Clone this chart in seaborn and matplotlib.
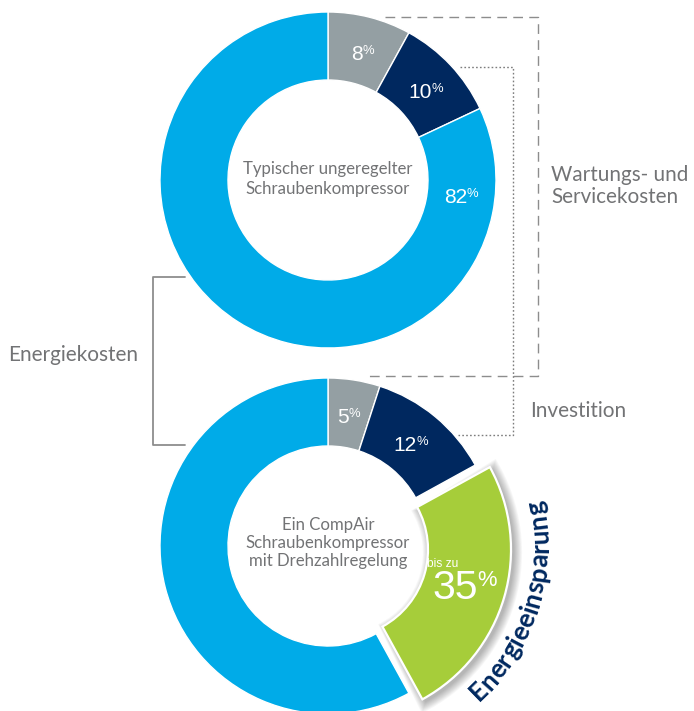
import matplotlib
matplotlib.use("Agg")
import matplotlib.pyplot as plt
import seaborn as sns
import numpy as np
from matplotlib.patches import Wedge
from matplotlib.font_manager import FontProperties

# ---------------- data ----------------
top_categories = ["Investition", "Wartungs- und Servicekosten", "Energiekosten"]
top_values = [8, 10, 82]
bottom_categories = ["Investition", "Wartungs- und Servicekosten", "Energieeinsparung", "Energiekosten"]
bottom_values = [5, 12, 25, 58]
savings_pct = 35
top_title = "Typischer ungeregelter\nSchraubenkompressor"
bottom_title = "Ein CompAir\nSchraubenkompressor\nmit Drehzahlregelung"
savings_text = "Energieeinsparung"

GREY, NAVY, GREEN, BLUE = "#949fa3", "#00285f", "#a6cd3a", "#00abe8"
TXT = "#727375"

sns.set_theme(style="white")
plt.rcParams['font.family'] = ['Lato', 'DejaVu Sans']

W, H = 694, 711
fig = plt.figure(figsize=(W / 100, H / 100), dpi=100)
ax = fig.add_axes([0, 0, 1, 1])


def Y(y):
    return H - y


PT = 72 / 100  # px -> pt

# ---------------- donuts ----------------
top_c = (328, Y(180))
bot_c = (328, Y(546))
R, WID = 168, 68

ax.pie(top_values, colors=[GREY, NAVY, BLUE], startangle=90, counterclock=False,
       radius=R, center=top_c,
       wedgeprops=dict(width=WID, edgecolor="white", linewidth=1.0))

bw, _ = ax.pie(bottom_values, colors=[GREY, NAVY, GREEN, BLUE], startangle=90,
               counterclock=False, radius=R, center=bot_c,
               wedgeprops=dict(width=WID, edgecolor="white", linewidth=1.0))
g = bw[2]
t1, t2 = g.theta1, g.theta2
tm = np.radians((t1 + t2) / 2)
shift = 12.5
gc = (bot_c[0] + shift * np.cos(tm), bot_c[1] + shift * np.sin(tm))
g.set_center(gc)
g.set_radius(171)
g.set_width(83)
g.set_linewidth(1.6)
g.set_zorder(3)
for i in range(10):
    d = 0.9 * i
    dang = np.degrees(d / 171)
    ax.add_patch(Wedge((gc[0] + 3, gc[1] - 3), 171 + d, t1 - dang, t2 + dang,
                       width=83 + 2 * d, facecolor="black", alpha=0.03,
                       edgecolor="none", zorder=2))

# ---------------- percentage labels ----------------
def pct_label(x_end, yc, num, fs_px, pfs_px, pct="%"):
    dh = 0.716 * fs_px
    base = Y(yc + dh / 2)
    ax.text(x_end, base, num, ha="right", va="baseline", color="white",
            fontsize=fs_px * PT, family="Liberation Sans", zorder=5)
    ax.text(x_end - 0.5, base + dh - 0.716 * pfs_px, pct, ha="left", va="baseline",
            color="white", fontsize=pfs_px * PT, family="Liberation Sans", zorder=5)


pct_label(363, 52, str(top_values[0]), 21, 13)
pct_label(432, 90, str(top_values[1]), 21, 13)
pct_label(467, 195, str(top_values[2]), 21, 13)
pct_label(349, 415, str(bottom_values[0]), 21, 13)
pct_label(417, 443, str(bottom_values[1]), 21, 13)

# savings label
ax.text(427, Y(567), "bis zu", ha="left", va="baseline", color="white",
        fontsize=12 * PT, family="Liberation Sans", zorder=5)
pct_label(478, 584.5, str(savings_pct), 41, 22)

# ---------------- centre texts ----------------
ax.text(top_c[0], Y(179), top_title, ha="center", va="center", color=TXT,
        fontsize=16.8 * PT, weight="normal", linespacing=1.28)
ax.text(bot_c[0], Y(543), bottom_title, ha="center", va="center", color=TXT,
        fontsize=16.8 * PT, weight="normal", linespacing=1.18)

# ---------------- side labels ----------------
ax.text(8, Y(355), "Energiekosten", ha="left", va="center", color=TXT,
        fontsize=20.8 * PT, weight="normal")
ax.text(551, Y(186), "Wartungs- und\nServicekosten", ha="left", va="center",
        color=TXT, fontsize=20.6 * PT, weight="normal", linespacing=1.15)
ax.text(530, Y(411), "Investition", ha="left", va="center", color=TXT,
        fontsize=20.8 * PT, weight="normal")

# ---------------- connector lines ----------------
ax.plot([385, 538, 538, 366], [Y(17), Y(17), Y(376), Y(376)], color="#8d8d8d",
        lw=1.0, ls=(0, (7, 4.5)), zorder=0)
ax.plot([460, 513, 513, 458], [Y(67), Y(67), Y(435), Y(435)], color="#7d7d7d",
        lw=1.0, ls=(0, (1.2, 1.6)), zorder=0)
ax.plot([185, 153, 153, 185], [Y(277), Y(277), Y(445), Y(445)], color="#8d8d8d",
        lw=1.3, zorder=0)

# ---------------- curved text ----------------
fig.canvas.draw()
rend = fig.canvas.get_renderer()
fp = FontProperties(family=["Lato", "DejaVu Sans"], weight="bold", size=26 * PT)


def tw(s):
    if not s:
        return 0.0
    w, h, d = rend.get_text_width_height_descent(s, fp, ismath=False)
    return w


total = tw(savings_text)
Rt = 203
arc_c = (337, Y(546))
phi_mid = np.radians(90 - 107.5)
phi0 = phi_mid - total / (2 * Rt)
for i, ch in enumerate(savings_text):
    mid = (tw(savings_text[:i]) + tw(savings_text[:i + 1])) / 2
    phi = phi0 + mid / Rt
    x = arc_c[0] + Rt * np.cos(phi)
    y = arc_c[1] + Rt * np.sin(phi)
    ax.text(x, y, ch, ha="center", va="center", rotation=np.degrees(phi) + 90,
            rotation_mode="anchor", color=NAVY, fontproperties=fp, zorder=6)

ax.set_xlim(0, W)
ax.set_ylim(0, H)
ax.set_axis_off()
fig.savefig("out.png", dpi=100)
